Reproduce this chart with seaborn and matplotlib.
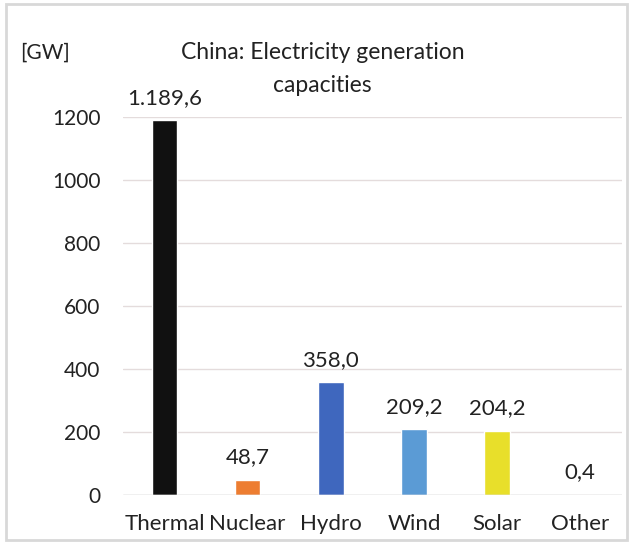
import matplotlib
matplotlib.use("Agg")
import matplotlib.pyplot as plt
import seaborn as sns
import pandas as pd
from matplotlib.patches import Rectangle

categories = ["Thermal", "Nuclear", "Hydro", "Wind", "Solar", "Other"]
values = [1189.6, 48.7, 358.0, 209.2, 204.2, 0.4]
value_labels = ["1.189,6", "48,7", "358,0", "209,2", "204,2", "0,4"]
colors = ["#111111", "#ED7D31", "#3F67BE", "#5B9BD5", "#E8DF2A", "#A5A5A5"]
yticks = [0, 200, 400, 600, 800, 1000, 1200]

sns.set_theme(style="white")
plt.rcParams['font.family'] = ['Lato', 'DejaVu Sans']

df = pd.DataFrame({"cat": categories, "val": values})
fig = plt.figure(figsize=(6.3, 5.44), dpi=100)
ax = fig.add_axes([0.195, 0.090, 0.792, 0.695])
sns.barplot(data=df, x="cat", y="val", hue="cat", palette=colors, legend=False,
            width=0.31, ax=ax, saturation=1)
ax.set_ylim(0, 1200)
ax.set_xlim(-0.5, 5.5)
ax.set_yticks(yticks)
ax.set_yticklabels([str(t) for t in yticks], fontsize=15, color="#222222")
ax.tick_params(axis="x", labelsize=16, colors="#222222", pad=14, length=0)
ax.tick_params(axis="y", length=0, pad=16)
ax.set_xlabel("")
ax.set_ylabel("")
ax.grid(axis="y", color="#E4DCDC", linewidth=1)
ax.set_axisbelow(True)
for s in ax.spines.values():
    s.set_visible(False)
ax.axhline(0, color="#D0D0D0", linewidth=1)
for i, (v, lab) in enumerate(zip(values, value_labels)):
    ax.annotate(lab, (i, v), xytext=(0, 9), textcoords="offset points",
                ha="center", va="bottom", fontsize=16, color="#222222")
fig.text(0.512, 0.903, "China: Electricity generation", ha="center", va="center",
         fontsize=16.5, color="#222222")
fig.text(0.512, 0.843, "capacities", ha="center", va="center", fontsize=16.5, color="#222222")
fig.text(0.072, 0.903, "[GW]", ha="center", va="center", fontsize=15, color="#222222")
fig.patches.append(Rectangle((0.009, 0.007), 0.986, 0.986, transform=fig.transFigure,
                             fill=False, edgecolor="#D8D8D8", linewidth=2))
fig.savefig("out.png", dpi=100)
